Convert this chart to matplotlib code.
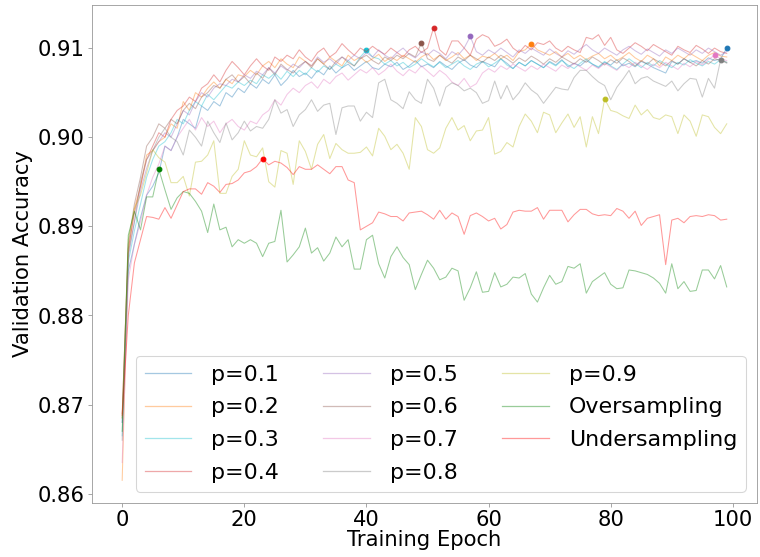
import matplotlib
matplotlib.use("Agg")
import matplotlib.pyplot as plt
from matplotlib.lines import Line2D
import numpy as np

epochs = list(range(100))

p01 = [0.8680, 0.8850, 0.8880, 0.8910, 0.8935, 0.8945, 0.8960, 0.8990, 0.8985, 0.9000,
       0.9020, 0.9015, 0.9010, 0.9035, 0.9030, 0.9040, 0.9035, 0.9050, 0.9045, 0.9055,
       0.9050, 0.9060, 0.9055, 0.9065, 0.9060, 0.9070, 0.9058, 0.9065, 0.9075, 0.9068,
       0.9072, 0.9066, 0.9075, 0.9070, 0.9080, 0.9072, 0.9078, 0.9082, 0.9075, 0.9080,
       0.9085, 0.9078, 0.9076, 0.9082, 0.9079, 0.9084, 0.9076, 0.9080, 0.9086, 0.9079,
       0.9082, 0.9078, 0.9085, 0.9080, 0.9076, 0.9083, 0.9087, 0.9081, 0.9078, 0.9085,
       0.9082, 0.9079, 0.9088, 0.9083, 0.9077, 0.9084, 0.9080, 0.9086, 0.9082, 0.9078,
       0.9085, 0.9081, 0.9087, 0.9079, 0.9083, 0.9080, 0.9086, 0.9082, 0.9078, 0.9084,
       0.9081, 0.9087, 0.9080, 0.9083, 0.9079, 0.9085, 0.9082, 0.9078, 0.9075, 0.9072,
       0.9085, 0.9082, 0.9088, 0.9084, 0.9086, 0.9083, 0.9089, 0.9086, 0.9088, 0.9100]

p02 = [0.8615, 0.8870, 0.8920, 0.8945, 0.8980, 0.8985, 0.8995, 0.9000, 0.9015, 0.9010,
       0.9040, 0.9030, 0.9050, 0.9045, 0.9055, 0.9062, 0.9055, 0.9065, 0.9060, 0.9070,
       0.9068, 0.9075, 0.9070, 0.9080, 0.9085, 0.9078, 0.9088, 0.9082, 0.9078, 0.9090,
       0.9085, 0.9080, 0.9088, 0.9082, 0.9090, 0.9085, 0.9080, 0.9092, 0.9086, 0.9090,
       0.9084, 0.9088, 0.9093, 0.9085, 0.9090, 0.9086, 0.9092, 0.9088, 0.9084, 0.9090,
       0.9094, 0.9087, 0.9092, 0.9086, 0.9090, 0.9095, 0.9088, 0.9092, 0.9086, 0.9091,
       0.9089, 0.9094, 0.9088, 0.9092, 0.9086, 0.9096, 0.9098, 0.9105, 0.9098, 0.9095,
       0.9092, 0.9096, 0.9090, 0.9094, 0.9088, 0.9092, 0.9087, 0.9091, 0.9094, 0.9088,
       0.9092, 0.9086, 0.9090, 0.9095, 0.9089, 0.9085, 0.9092, 0.9088, 0.9080, 0.9090,
       0.9086, 0.9092, 0.9088, 0.9094, 0.9090, 0.9086, 0.9092, 0.9095, 0.9091, 0.9090]

p03 = [0.8665, 0.8860, 0.8895, 0.8925, 0.8955, 0.8975, 0.8990, 0.8995, 0.9005, 0.9020,
       0.9015, 0.9030, 0.9040, 0.9035, 0.9048, 0.9042, 0.9050, 0.9058, 0.9055, 0.9062,
       0.9058, 0.9064, 0.9060, 0.9070, 0.9066, 0.9072, 0.9065, 0.9074, 0.9068, 0.9075,
       0.9070, 0.9078, 0.9073, 0.9080, 0.9076, 0.9082, 0.9078, 0.9086, 0.9080, 0.9090,
       0.9098, 0.9090, 0.9088, 0.9082, 0.9086, 0.9080, 0.9084, 0.9078, 0.9082, 0.9088,
       0.9083, 0.9079, 0.9084, 0.9078, 0.9082, 0.9086, 0.9080, 0.9076, 0.9082, 0.9085,
       0.9079, 0.9083, 0.9088, 0.9081, 0.9077, 0.9084, 0.9080, 0.9086, 0.9082, 0.9078,
       0.9084, 0.9080, 0.9086, 0.9081, 0.9077, 0.9083, 0.9088, 0.9082, 0.9079, 0.9085,
       0.9080, 0.9076, 0.9082, 0.9088, 0.9083, 0.9078, 0.9084, 0.9080, 0.9086, 0.9082,
       0.9078, 0.9084, 0.9081, 0.9087, 0.9083, 0.9080, 0.9085, 0.9082, 0.9087, 0.9084]

p04 = [0.8690, 0.8875, 0.8915, 0.8945, 0.8975, 0.8990, 0.9005, 0.9000, 0.9020, 0.9030,
       0.9035, 0.9045, 0.9040, 0.9055, 0.9060, 0.9070, 0.9062, 0.9075, 0.9085, 0.9078,
       0.9070, 0.9080, 0.9088, 0.9080, 0.9075, 0.9090, 0.9085, 0.9092, 0.9088, 0.9098,
       0.9090, 0.9085, 0.9095, 0.9100, 0.9090, 0.9095, 0.9105, 0.9098, 0.9092, 0.9100,
       0.9096, 0.9102, 0.9097, 0.9093, 0.9100, 0.9095, 0.9090, 0.9098, 0.9102, 0.9095,
       0.9100, 0.9123, 0.9098, 0.9092, 0.9108, 0.9108, 0.9100, 0.9092, 0.9110, 0.9115,
       0.9112, 0.9102, 0.9105, 0.9110, 0.9100, 0.9095, 0.9103, 0.9098, 0.9106, 0.9104,
       0.9108, 0.9100, 0.9096, 0.9102, 0.9098, 0.9095, 0.9112, 0.9110, 0.9115, 0.9103,
       0.9112, 0.9098, 0.9094, 0.9100, 0.9106, 0.9102, 0.9097, 0.9104, 0.9100, 0.9096,
       0.9092, 0.9102, 0.9098, 0.9095, 0.9103, 0.9099, 0.9094, 0.9100, 0.9096, 0.9094]

p05 = [0.8680, 0.8865, 0.8905, 0.8940, 0.8965, 0.8985, 0.8995, 0.9005, 0.9000, 0.9015,
       0.9030, 0.9025, 0.9040, 0.9050, 0.9045, 0.9055, 0.9060, 0.9058, 0.9065, 0.9062,
       0.9070, 0.9066, 0.9074, 0.9070, 0.9078, 0.9072, 0.9080, 0.9075, 0.9082, 0.9078,
       0.9085, 0.9080, 0.9090, 0.9084, 0.9088, 0.9082, 0.9090, 0.9086, 0.9092, 0.9088,
       0.9095, 0.9090, 0.9098, 0.9092, 0.9088, 0.9095, 0.9100, 0.9093, 0.9089, 0.9096,
       0.9092, 0.9098, 0.9094, 0.9088, 0.9096, 0.9092, 0.9100, 0.9113, 0.9096, 0.9092,
       0.9098, 0.9094, 0.9100, 0.9095, 0.9090, 0.9098, 0.9094, 0.9100, 0.9096, 0.9092,
       0.9099, 0.9094, 0.9090, 0.9097, 0.9093, 0.9099, 0.9104, 0.9098, 0.9094, 0.9100,
       0.9096, 0.9092, 0.9098, 0.9102, 0.9097, 0.9093, 0.9099, 0.9095, 0.9091, 0.9098,
       0.9094, 0.9100, 0.9096, 0.9092, 0.9098, 0.9094, 0.9100, 0.9096, 0.9092, 0.9096]

p06 = [0.8685, 0.8880, 0.8925, 0.8955, 0.8990, 0.9000, 0.9015, 0.9010, 0.9020, 0.9015,
       0.9030, 0.9038, 0.9032, 0.9045, 0.9050, 0.9058, 0.9055, 0.9065, 0.9070, 0.9062,
       0.9068, 0.9060, 0.9072, 0.9066, 0.9078, 0.9070, 0.9082, 0.9076, 0.9072, 0.9080,
       0.9085, 0.9078, 0.9088, 0.9082, 0.9076, 0.9085, 0.9090, 0.9084, 0.9080, 0.9088,
       0.9092, 0.9086, 0.9082, 0.9090, 0.9086, 0.9092, 0.9088, 0.9094, 0.9090, 0.9106,
       0.9088, 0.9085, 0.9092, 0.9087, 0.9083, 0.9090, 0.9086, 0.9092, 0.9088, 0.9084,
       0.9090, 0.9086, 0.9092, 0.9088, 0.9083, 0.9089, 0.9085, 0.9091, 0.9087, 0.9082,
       0.9088, 0.9084, 0.9090, 0.9086, 0.9082, 0.9088, 0.9084, 0.9090, 0.9086, 0.9081,
       0.9087, 0.9083, 0.9089, 0.9085, 0.9080, 0.9086, 0.9082, 0.9088, 0.9084, 0.9080,
       0.9086, 0.9082, 0.9088, 0.9084, 0.9080, 0.9086, 0.9082, 0.9088, 0.9086, 0.9084]

p07 = [0.8635, 0.8840, 0.8880, 0.8905, 0.8935, 0.8955, 0.8970, 0.8990, 0.8985, 0.9000,
       0.9010, 0.9020, 0.9008, 0.9022, 0.9012, 0.9018, 0.9005, 0.9015, 0.9020, 0.9012,
       0.9008, 0.9018, 0.9015, 0.9025, 0.9030, 0.9042, 0.9036, 0.9048, 0.9055, 0.9050,
       0.9058, 0.9062, 0.9055, 0.9065, 0.9060, 0.9068, 0.9072, 0.9064, 0.9070, 0.9076,
       0.9072, 0.9078, 0.9070, 0.9075, 0.9082, 0.9074, 0.9069, 0.9076, 0.9072, 0.9080,
       0.9074, 0.9068, 0.9075, 0.9070, 0.9062, 0.9058, 0.9066, 0.9056, 0.9060, 0.9072,
       0.9077, 0.9073, 0.9080, 0.9076, 0.9082, 0.9078, 0.9074, 0.9080, 0.9076, 0.9082,
       0.9078, 0.9074, 0.9081, 0.9077, 0.9083, 0.9079, 0.9075, 0.9081, 0.9077, 0.9083,
       0.9079, 0.9075, 0.9082, 0.9078, 0.9084, 0.9080, 0.9076, 0.9082, 0.9078, 0.9084,
       0.9080, 0.9076, 0.9083, 0.9079, 0.9085, 0.9081, 0.9087, 0.9092, 0.9088, 0.9086]

p08 = [0.8660, 0.8870, 0.8905, 0.8950, 0.8975, 0.8985, 0.9000, 0.9010, 0.9000, 0.8995,
       0.8980, 0.9008, 0.9000, 0.8990, 0.9018, 0.9005, 0.8994, 0.9016, 0.8997, 0.9005,
       0.9018, 0.9007, 0.9012, 0.9010, 0.9020, 0.9042, 0.9027, 0.9031, 0.9012, 0.9025,
       0.9031, 0.9042, 0.9029, 0.9036, 0.9038, 0.9003, 0.9033, 0.9035, 0.9035, 0.9018,
       0.9028, 0.9022, 0.9061, 0.9065, 0.9042, 0.9038, 0.9032, 0.9051, 0.9042, 0.9038,
       0.9065, 0.9055, 0.9035, 0.9056, 0.9061, 0.9058, 0.9052, 0.9055, 0.9050, 0.9038,
       0.9041, 0.9063, 0.9043, 0.9058, 0.9042, 0.9050, 0.9061, 0.9053, 0.9048, 0.9038,
       0.9047, 0.9056, 0.9054, 0.9053, 0.9067, 0.9075, 0.9075, 0.9068, 0.9062, 0.9058,
       0.9042, 0.9056, 0.9065, 0.9075, 0.9060, 0.9066, 0.9068, 0.9063, 0.9060, 0.9057,
       0.9063, 0.9052, 0.9060, 0.9066, 0.9065, 0.9045, 0.9066, 0.9055, 0.9087, 0.9083]

p09 = [0.8685, 0.8885, 0.8920, 0.8935, 0.8960, 0.8986, 0.8977, 0.8972, 0.8949, 0.8949,
       0.8956, 0.8934, 0.8972, 0.8973, 0.8980, 0.8996, 0.8937, 0.8937, 0.8956, 0.8964,
       0.8996, 0.8980, 0.8978, 0.8988, 0.8950, 0.8944, 0.8985, 0.8982, 0.8947, 0.8996,
       0.8984, 0.8964, 0.8992, 0.9003, 0.8976, 0.8993, 0.8986, 0.8982, 0.8982, 0.8983,
       0.8989, 0.8979, 0.9010, 0.9001, 0.8986, 0.8992, 0.8982, 0.8964, 0.9022, 0.9012,
       0.8986, 0.8982, 0.8988, 0.9010, 0.9022, 0.9008, 0.9013, 0.8996, 0.9007, 0.9008,
       0.9022, 0.8981, 0.8984, 0.8994, 0.8989, 0.9012, 0.9026, 0.9018, 0.9005, 0.9028,
       0.9025, 0.9005, 0.9016, 0.9026, 0.9011, 0.9023, 0.8989, 0.9023, 0.9004, 0.9043,
       0.9030, 0.9028, 0.9024, 0.9021, 0.9036, 0.9025, 0.9031, 0.9022, 0.9020, 0.9025,
       0.9023, 0.9004, 0.9025, 0.9018, 0.9001, 0.9025, 0.9023, 0.9011, 0.9004, 0.9015]

oversampling = [0.8670, 0.8890, 0.8917, 0.8896, 0.8933, 0.8933, 0.8964, 0.8941, 0.8919, 0.8932,
                0.8939, 0.8937, 0.8928, 0.8917, 0.8893, 0.8925, 0.8896, 0.8899, 0.8877, 0.8885,
                0.8881, 0.8885, 0.8881, 0.8866, 0.8881, 0.8883, 0.8918, 0.8860, 0.8868, 0.8877,
                0.8898, 0.8870, 0.8876, 0.8861, 0.8870, 0.8888, 0.8877, 0.8885, 0.8852, 0.8852,
                0.8885, 0.8890, 0.8858, 0.8842, 0.8866, 0.8877, 0.8865, 0.8857, 0.8829, 0.8846,
                0.8862, 0.8853, 0.8840, 0.8843, 0.8853, 0.8850, 0.8817, 0.8831, 0.8849, 0.8826,
                0.8827, 0.8848, 0.8832, 0.8835, 0.8843, 0.8842, 0.8847, 0.8824, 0.8815, 0.8831,
                0.8845, 0.8835, 0.8838, 0.8855, 0.8853, 0.8858, 0.8825, 0.8838, 0.8843, 0.8848,
                0.8835, 0.8830, 0.8831, 0.8851, 0.8850, 0.8848, 0.8846, 0.8842, 0.8836, 0.8825,
                0.8858, 0.8830, 0.8838, 0.8827, 0.8828, 0.8851, 0.8851, 0.8841, 0.8856, 0.8832]

undersampling = [0.8688, 0.8800, 0.8859, 0.8885, 0.8911, 0.8910, 0.8908, 0.8921, 0.8909, 0.8924,
                 0.8939, 0.8942, 0.8942, 0.8936, 0.8949, 0.8945, 0.8938, 0.8947, 0.8948, 0.8952,
                 0.8960, 0.8962, 0.8967, 0.8976, 0.8969, 0.8973, 0.8971, 0.8966, 0.8958, 0.8967,
                 0.8964, 0.8964, 0.8969, 0.8964, 0.8959, 0.8967, 0.8967, 0.8952, 0.8949, 0.8896,
                 0.8900, 0.8904, 0.8916, 0.8914, 0.8911, 0.8911, 0.8906, 0.8915, 0.8916, 0.8917,
                 0.8913, 0.8908, 0.8918, 0.8908, 0.8915, 0.8911, 0.8891, 0.8912, 0.8915, 0.8911,
                 0.8906, 0.8909, 0.8897, 0.8902, 0.8916, 0.8918, 0.8917, 0.8917, 0.8921, 0.8908,
                 0.8918, 0.8918, 0.8918, 0.8905, 0.8913, 0.8919, 0.8919, 0.8914, 0.8912, 0.8913,
                 0.8912, 0.8920, 0.8917, 0.8909, 0.8917, 0.8901, 0.8909, 0.8911, 0.8913, 0.8857,
                 0.8907, 0.8909, 0.8904, 0.8911, 0.8912, 0.8911, 0.8913, 0.8912, 0.8907, 0.8908]

labels = ["p=0.1", "p=0.2", "p=0.3", "p=0.4", "p=0.5", "p=0.6", "p=0.7", "p=0.8", "p=0.9",
          "Oversampling", "Undersampling"]
series = [p01, p02, p03, p04, p05, p06, p07, p08, p09, oversampling, undersampling]
colors = ["tab:blue", "tab:orange", "tab:cyan", "tab:red", "tab:purple", "tab:brown",
          "tab:pink", "tab:gray", "tab:olive", "green", "red"]

fig = plt.figure(figsize=(10, 7.33), dpi=76)
ax = fig.add_axes([0.121, 0.097, 0.875, 0.894])

handles = []
for vals, lab, col in zip(series, labels, colors):
    ax.plot(epochs, vals, color=col, alpha=0.4, linewidth=1)
    i = int(np.argmax(vals))
    ax.plot(epochs[i], vals[i], 'o', color=col, markersize=4.5)
    handles.append(Line2D([0], [0], color=col, alpha=0.4, linewidth=1.2, label=lab))

for s in ax.spines.values():
    s.set_color("#999999")
ax.tick_params(colors="#999999", labelcolor="black", labelsize=20)
ax.set_xlabel("Training Epoch", fontsize=20, labelpad=0)
ax.set_ylabel("Validation Accuracy", fontsize=20)
ax.set_yticks([0.86, 0.87, 0.88, 0.89, 0.90, 0.91])
ax.set_yticklabels(["0.86", "0.87", "0.88", "0.89", "0.90", "0.91"])
ax.set_xticks([0, 20, 40, 60, 80, 100])
ax.legend(handles=handles, ncol=3, fontsize=21, loc="lower right", labelspacing=0.58,
          handlelength=2.1, handletextpad=0.9, columnspacing=2.0)

fig.savefig("out.png", dpi=76)
